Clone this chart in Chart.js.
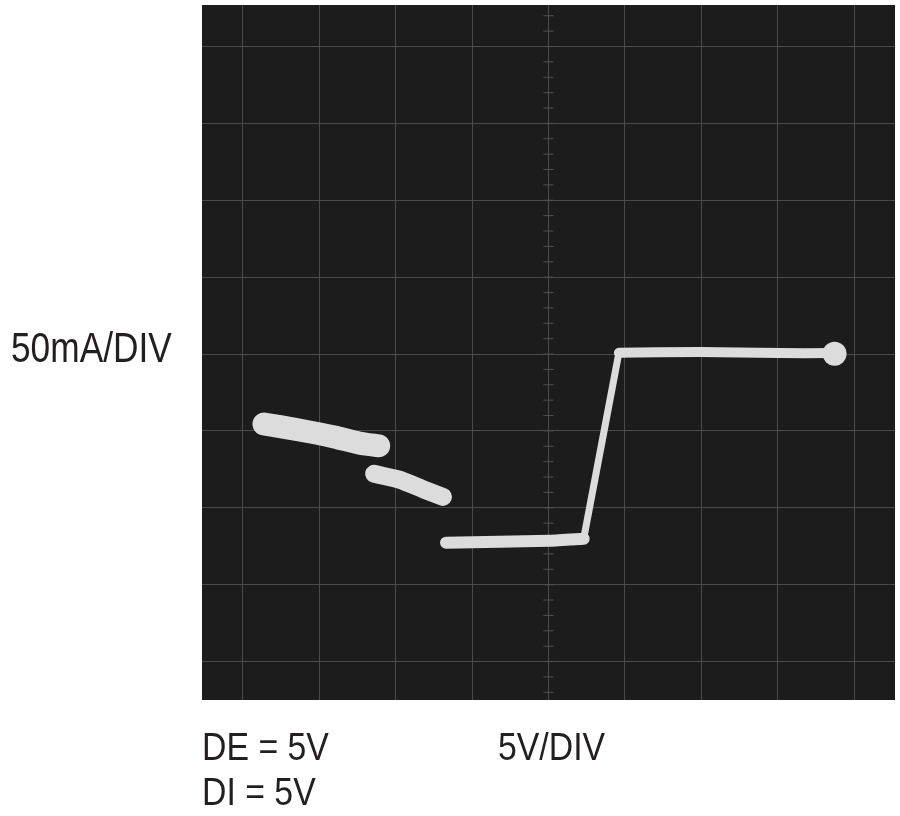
<!DOCTYPE html>
<html lang="en">
<head>
  <meta charset="UTF-8">
  <title>Driver Output Current vs Voltage</title>
  <script src="https://cdn.jsdelivr.net/npm/chart.js"></script>
  <style>
    body { margin: 0; background: #fff; font-family: "Liberation Sans", Arial, sans-serif; }
    .wrap { position: relative; width: 900px; height: 816px; }
    canvas { position: absolute; left: 0; top: 0; }
    .lbl { position: absolute; color: #231f20; line-height: 1; white-space: nowrap; transform-origin: left top; }
  </style>
</head>
<body>
  <div class="wrap">
    <canvas id="scope" width="900" height="816"></canvas>
    <div class="lbl" style="left:11px; top:327px; font-size:42px; transform:scaleX(0.84);">50mA/DIV</div>
    <div class="lbl" style="left:202px; top:728px; font-size:38px; transform:scaleX(0.89);">DE = 5V</div>
    <div class="lbl" style="left:202px; top:773px; font-size:38px; transform:scaleX(0.89);">DI = 5V</div>
    <div class="lbl" style="left:498px; top:728px; font-size:38px; transform:scaleX(0.89);">5V/DIV</div>
  </div>

  <script>
    // axes: volts across (5V/div), milliamps up (50mA/div), zero at screen centre
    const xRange = [-22.65, 22.65];
    const yRange = [-225, 227];
    const xGrid = [-20, -15, -10, -5, 0, 5, 10, 15, 20];
    const yGrid = [-200, -150, -100, -50, 0, 50, 100, 150, 200];

    // trace pieces
    const blobUpper = [
      { x: -18.6, y: -45.5 }, { x: -16.3, y: -49.4 }, { x: -14.0, y: -53.9 },
      { x: -12.4, y: -57.8 }, { x: -11.1, y: -59.7 }
    ];
    const blobLower = [
      { x: -11.4, y: -77.9 }, { x: -9.7, y: -81.8 }, { x: -8.1, y: -88.3 }, { x: -6.9, y: -92.9 }
    ];
    const lowFlat = [
      { x: -6.7, y: -122.7 }, { x: -3.2, y: -122.1 }, { x: 0.1, y: -121.4 }, { x: 2.3, y: -120.1 }
    ];
    const edge = [ { x: 2.3, y: -120.1 }, { x: 4.6, y: 0.8 } ];
    const highFlat = [
      { x: 4.6, y: 0.8 }, { x: 9.9, y: 1.3 }, { x: 15.1, y: 0.6 }, { x: 18.4, y: 0.6 }
    ];
    const endBlob = [ { x: 18.7, y: 0.2 } ];

    const traceColor = '#dcdcdc';

    function trace(data, width) {
      return {
        data: data, showLine: true, borderColor: traceColor, borderWidth: width,
        borderCapStyle: 'round', borderJoinStyle: 'round', pointRadius: 0, tension: 0.2
      };
    }

    // dark screen behind the plot and the small ticks on the vertical centre line
    const screenPlugin = {
      id: 'screen',
      beforeDraw(chart) {
        const { ctx, chartArea: a } = chart;
        ctx.save();
        ctx.fillStyle = '#1c1c1c';
        ctx.fillRect(a.left, a.top, a.right - a.left, a.bottom - a.top);
        ctx.restore();
      },
      beforeDatasetsDraw(chart) {
        const { ctx, scales } = chart;
        const cx = scales.x.getPixelForValue(0);
        const step = (yGrid[1] - yGrid[0]) / 5;
        ctx.save();
        ctx.strokeStyle = '#505050';
        ctx.lineWidth = 1;
        ctx.beginPath();
        for (let mv = Math.ceil(yRange[0] / step) * step; mv <= yRange[1]; mv += step) {
          const py = scales.y.getPixelForValue(mv);
          ctx.moveTo(cx - 5, py); ctx.lineTo(cx + 5, py);
        }
        ctx.stroke();
        ctx.restore();
      }
    };

    const axisStyle = (range, grid) => ({
      type: 'linear', min: range[0], max: range[1],
      afterBuildTicks: (scale) => { scale.ticks = grid.map(v => ({ value: v })); },
      ticks: { display: false },
      grid: { color: '#4a4a4a', lineWidth: 1, drawTicks: false },
      border: { display: false }
    });

    new Chart(document.getElementById('scope'), {
      type: 'scatter',
      data: {
        datasets: [
          trace(blobUpper, 23),
          trace(blobLower, 18),
          trace(lowFlat, 12),
          trace(edge, 7),
          trace(highFlat, 10),
          { data: endBlob, pointRadius: 12, pointBackgroundColor: traceColor, pointBorderWidth: 0 }
        ]
      },
      options: {
        responsive: false,
        animation: false,
        layout: { autoPadding: false, padding: { left: 202, top: 5, right: 5, bottom: 116 } },
        plugins: { legend: { display: false }, tooltip: { enabled: false } },
        scales: {
          x: axisStyle(xRange, xGrid),
          y: axisStyle(yRange, yGrid)
        }
      },
      plugins: [screenPlugin]
    });
  </script>
</body>
</html>
